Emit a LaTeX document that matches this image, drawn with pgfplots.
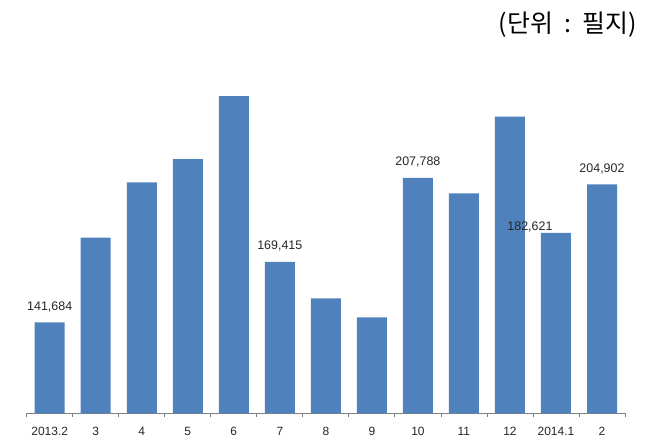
\documentclass[border=0pt]{standalone}
\usepackage{fontspec}
\setmainfont{Liberation Sans}
\newfontfamily\kr{Noto Sans CJK KR}
\usepackage{pgfplots}
\pgfplotsset{compat=1.18}
\definecolor{barblue}{RGB}{79,129,189}
\begin{document}
\begin{tikzpicture}[x=1bp,y=1bp]
\useasboundingbox (0,0) rectangle (648,445);
\node[anchor=east, font=\kr\fontsize{25}{27}\selectfont, inner sep=0pt] at (637,420) {(단위\hspace{0.45em}:\hspace{0.45em}필지)};
\begin{axis}[at={(26.7bp,31.7bp)}, anchor=south west, scale only axis,
  width=598.3bp, height=349.3bp,
  xmin=-0.5, xmax=12.5, ymin=100000, ymax=260000,
  axis x line*=bottom, axis y line=none,
  x axis line style={draw=black!50, line width=0.8pt, -},
  xtick={0,...,12},
  xticklabels={2013.2,3,4,5,6,7,8,9,10,11,12,2014.1,2},
  major tick length=0pt,
  minor xtick={-0.5,0.5,...,12.5}, minor tick length=4bp, tick align=outside,
  minor tick style={black!50, line width=0.8pt},
  xticklabel style={font=\fontsize{12}{14}\selectfont, yshift=-10bp, text=black!85},
  clip=true,
]
\addplot[ybar, bar width=30bp, fill=barblue, draw=none] coordinates {
(0,141684) (1,180425) (2,205798) (3,216469) (4,245323) (5,169415) (6,152670)
(7,143968) (8,207788) (9,200760) (10,235843) (11,182621) (12,204902)};
\node[anchor=base, font=\fontsize{12.5}{14}\selectfont, text=black!85, inner sep=0pt, yshift=12bp] at (axis cs:0,141684) {141,684};
\node[anchor=base, font=\fontsize{12.5}{14}\selectfont, text=black!85, inner sep=0pt, yshift=12bp] at (axis cs:5,169415) {169,415};
\node[anchor=base, font=\fontsize{12.5}{14}\selectfont, text=black!85, inner sep=0pt, yshift=12bp] at (axis cs:8,207788) {207,788};
\node[anchor=base, font=\fontsize{12.5}{14}\selectfont, text=black!85, inner sep=0pt, yshift=12bp] at (axis cs:12,204902) {204,902};
\node[anchor=base, font=\fontsize{12.5}{14}\selectfont, text=black!85, inner sep=0pt, yshift=2bp, xshift=-26bp] at (axis cs:11,182621) {182,621};
\end{axis}
\end{tikzpicture}
\end{document}
